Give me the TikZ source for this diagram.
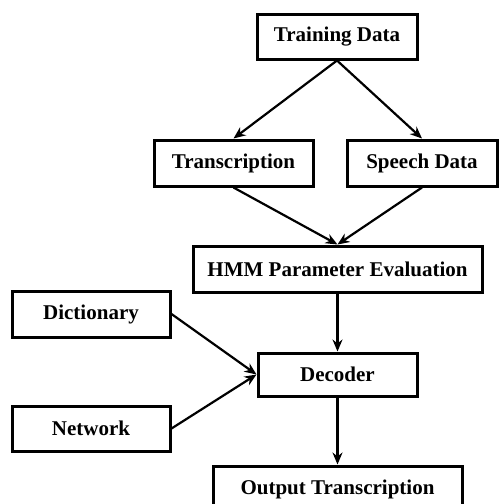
\documentclass[tikz,border=0pt]{standalone}
\usepackage{fontspec}
\setmainfont{Liberation Serif}
\usetikzlibrary{arrows.meta}

\begin{document}
\begin{tikzpicture}[
        x=1pt, y=-1pt,
        block/.style={draw, line width=3pt, rectangle, inner sep=0pt,
          font=\fontsize{21}{24}\selectfont\bfseries},
        flow/.style={line width=2.2pt, -{Stealth[length=12pt, width=10pt]}}
      ]
      \useasboundingbox (0,0) rectangle (499,504);
      % training side
      \node[block, minimum width=160pt, minimum height=45pt] (train) at (337,36.5) {Training Data};
      \node[block, minimum width=159pt, minimum height=46pt] (transcr) at (233.5,163) {Transcription};
      \node[block, minimum width=150pt, minimum height=46pt] (speech) at (422,163) {Speech Data};
      \node[block, minimum width=289pt, minimum height=46pt] (hmm) at (337.5,269) {HMM Parameter Evaluation};
      % decoding side
      \node[block, minimum width=158pt, minimum height=46pt] (dict) at (91,314) {Dictionary};
      \node[block, minimum width=158pt, minimum height=45pt] (net) at (91,428.5) {Network};
      \node[block, minimum width=159pt, minimum height=43pt] (dec) at (337.5,374.5) {Decoder};
      \node[block, minimum width=249pt, minimum height=46pt] (out) at (337.5,489) {Output Transcription};

      \draw[flow] (train.south) -- (transcr.north);
      \draw[flow] (train.south) -- (speech.north);
      \draw[flow] (transcr.south) -- (hmm.north);
      \draw[flow] (speech.south) -- (hmm.north);
      \draw[flow] (hmm.south) -- (dec.north);
      \draw[flow] (dict.east) -- (dec.west);
      \draw[flow] (net.east) -- (dec.west);
      \draw[flow] (dec.south) -- (out.north);
\end{tikzpicture}
\end{document}
